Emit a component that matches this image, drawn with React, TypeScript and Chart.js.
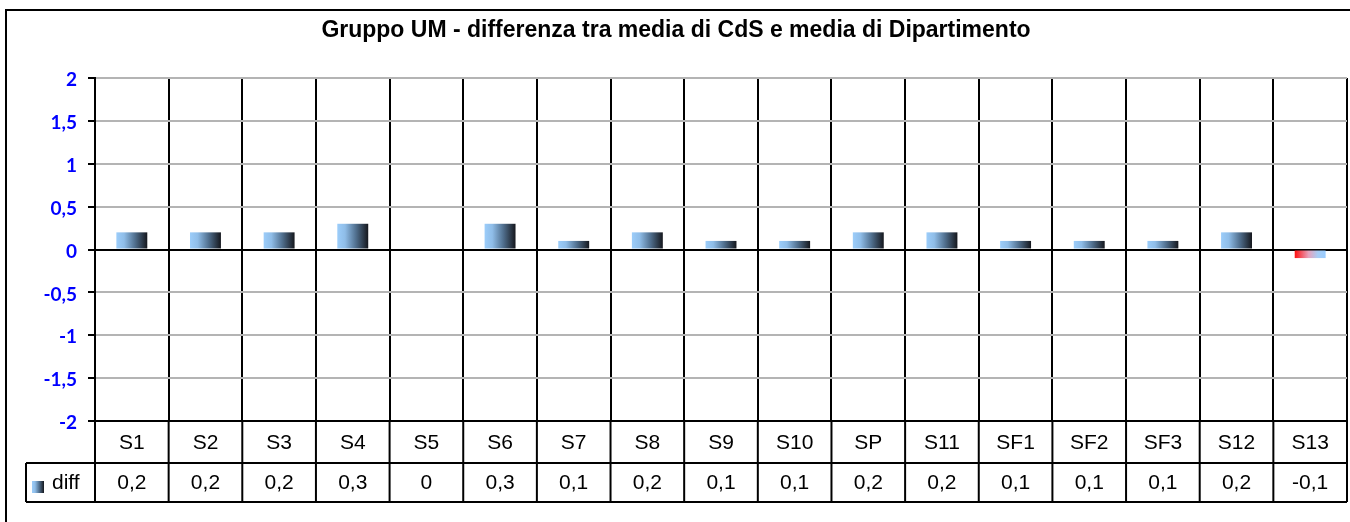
import React, { useEffect, useRef } from "react";
import { Chart, registerables } from "chart.js";

Chart.register(...registerables);

const chartTitle = "Gruppo UM - differenza tra media di CdS e media di Dipartimento";
const seriesName = "diff";
const categories = ["S1", "S2", "S3", "S4", "S5", "S6", "S7", "S8", "S9", "S10", "SP", "S11", "SF1", "SF2", "SF3", "S12", "S13"];
const diffValues = [0.2, 0.2, 0.2, 0.3, 0, 0.3, 0.1, 0.2, 0.1, 0.1, 0.2, 0.2, 0.1, 0.1, 0.1, 0.2, -0.1];
const yTickValues = [-2, -1.5, -1, -0.5, 0, 0.5, 1, 1.5, 2];

const fmt = (v: number) => String(v).replace(".", ",");

const posGradient = (ctx: CanvasRenderingContext2D, x0: number, x1: number) => {
  const g = ctx.createLinearGradient(x0, 0, x1, 0);
  g.addColorStop(0, "#9ccdfa");
  g.addColorStop(0.25, "#8fbde8");
  g.addColorStop(0.6, "#51708f");
  g.addColorStop(1, "#15171d");
  return g;
};
const negGradient = (ctx: CanvasRenderingContext2D, x0: number, x1: number) => {
  const g = ctx.createLinearGradient(x0, 0, x1, 0);
  g.addColorStop(0, "#ff1010");
  g.addColorStop(0.45, "#e6a2bc");
  g.addColorStop(0.75, "#a6cdf6");
  g.addColorStop(1, "#99ccff");
  return g;
};

const BAR_PCT = 0.42;
const TABLE_ROW1 = 42;
const TABLE_ROW2 = 39;
const LEGEND_LEFT = 26;

const tablePlugin = {
  id: "excelTable",
  afterDraw(chart: any) {
    const ctx: CanvasRenderingContext2D = chart.ctx;
    const x = chart.scales.x;
    const area = chart.chartArea;
    const n = categories.length;
    const w = (area.right - area.left) / n;
    const y0 = area.bottom;
    const y1 = y0 + TABLE_ROW1;
    const y2 = y1 + TABLE_ROW2;
    ctx.save();
    ctx.strokeStyle = "#000";
    ctx.lineWidth = 2;
    ctx.strokeRect(6, 10, 1400, 600);
    ctx.fillStyle = "#000";
    ctx.font = "bold 23px 'Liberation Sans', Arial, sans-serif";
    ctx.textAlign = "center";
    ctx.textBaseline = "middle";
    ctx.fillText(chartTitle, 676, 31);
    ctx.beginPath();
    ctx.moveTo(area.left - 7, y0);
    ctx.lineTo(area.right, y0);
    ctx.moveTo(LEGEND_LEFT, y1);
    ctx.lineTo(area.right, y1);
    ctx.moveTo(LEGEND_LEFT, y2);
    ctx.lineTo(area.right, y2);
    for (let i = 0; i <= n; i++) {
      const bx = area.left + i * w;
      ctx.moveTo(bx, y0);
      ctx.lineTo(bx, y2);
    }
    ctx.moveTo(LEGEND_LEFT, y1);
    ctx.lineTo(LEGEND_LEFT, y2);
    ctx.stroke();
    ctx.font = "21px 'Liberation Sans', Arial, sans-serif";
    ctx.textAlign = "center";
    ctx.textBaseline = "middle";
    categories.forEach((c, i) => {
      const cx = x.getPixelForValue(i);
      ctx.fillText(c, cx, (y0 + y1) / 2 + 1);
      ctx.fillText(fmt(diffValues[i]), cx, (y1 + y2) / 2 + 1);
    });
    ctx.fillStyle = posGradient(ctx, 32, 44);
    ctx.fillRect(32, 481, 12, 12);
    ctx.fillStyle = "#000";
    ctx.textAlign = "left";
    ctx.fillText(seriesName, 52, (y1 + y2) / 2 + 1);
    ctx.restore();
  },
};

export default function App() {
  const ref = useRef<HTMLCanvasElement | null>(null);
  useEffect(() => {
    if (!ref.current) return;
    const chart = new Chart(ref.current, {
      type: "bar",
      data: {
        labels: categories,
        datasets: [
          {
            label: seriesName,
            data: diffValues,
            categoryPercentage: 1,
            barPercentage: BAR_PCT,
            borderWidth: 0,
            backgroundColor: (c: any) => {
              const ch = c.chart;
              const sx = ch.scales && ch.scales.x;
              if (!sx || !ch.chartArea) return "#9ccdfa";
              const cx = sx.getPixelForValue(c.dataIndex);
              const w = ((ch.chartArea.right - ch.chartArea.left) / categories.length) * BAR_PCT;
              const v = diffValues[c.dataIndex];
              return v < 0 ? negGradient(ch.ctx, cx - w / 2, cx + w / 2) : posGradient(ch.ctx, cx - w / 2, cx + w / 2);
            },
          },
        ],
      },
      options: {
        responsive: false,
        animation: false,
        layout: { padding: { left: 0, top: 78, right: 3, bottom: 101 } },
        plugins: { legend: { display: false }, title: { display: false }, tooltip: { enabled: false } },
        scales: {
          x: {
            type: "category",
            grid: { display: true, color: "#000", lineWidth: 2, offset: true, drawTicks: false },
            ticks: { display: false },
            border: { display: false },
            afterFit: (s: any) => {
              s.height = 0;
            },
          },
          y: {
            min: -2,
            max: 2,
            afterBuildTicks: (s: any) => {
              s.ticks = yTickValues.map((v) => ({ value: v }));
            },
            ticks: {
              color: "#0000ff",
              font: { family: "Lato", weight: "bold", size: 19 },
              padding: 11,
              labelOffset: 2,
              callback: (v: any) => fmt(Number(v)),
            },
            grid: {
              color: (c: any) => (c.tick && (c.tick.value === 0 || c.tick.value === -2) ? "#000" : "#b4b4b4"),
              lineWidth: 2,
              tickLength: 7,
              tickColor: "#000",
            },
            border: { display: true, color: "#000", width: 2 },
            afterFit: (s: any) => {
              s.width = 95;
            },
          },
        },
      },
      plugins: [tablePlugin],
    } as any);
    return () => chart.destroy();
  }, []);
  return (
    <div style={{ position: "absolute", left: 0, top: 0, width: 1350, height: 522, background: "#fff" }}>
      <canvas ref={ref} width={1350} height={522} />
    </div>
  );
}
